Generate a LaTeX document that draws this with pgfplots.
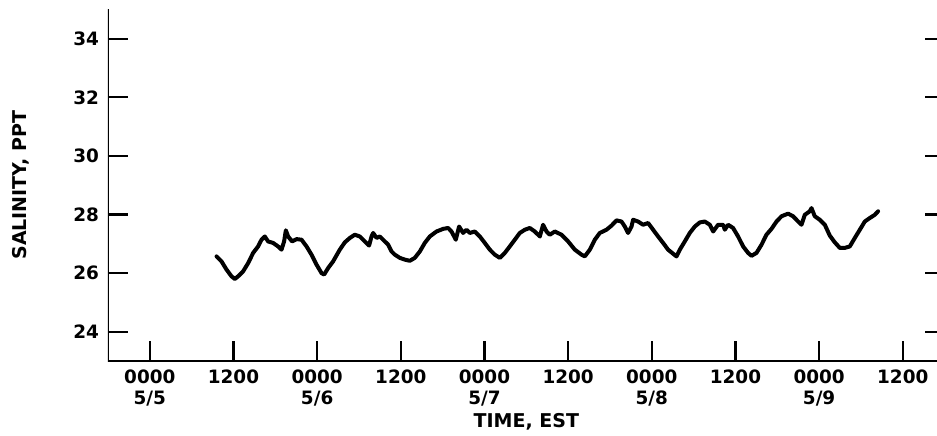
\documentclass[border=0pt]{standalone}
\usepackage{fontspec}
\setmainfont{DejaVu Sans}
\usepackage{pgfplots}
\pgfplotsset{compat=1.18}
\usepackage{pgfplotstable}

% salinity record, hours from 0000 5/5 vs ppt
\pgfplotstableread{
h v
9.57 26.57
10.28 26.40
11.00 26.12
11.72 25.89
12.19 25.80
12.66 25.89
13.38 26.06
14.10 26.34
14.82 26.69
15.53 26.91
16.02 27.14
16.49 27.25
16.97 27.08
17.68 27.03
18.40 26.91
18.89 26.80
19.26 27.08
19.51 27.46
19.84 27.25
20.41 27.08
21.04 27.16
21.76 27.14
22.48 26.91
23.19 26.63
23.91 26.29
24.63 26.00
25.00 25.95
25.57 26.17
26.29 26.40
27.25 26.80
27.97 27.05
28.69 27.20
29.40 27.31
30.12 27.25
30.84 27.08
31.45 26.94
31.80 27.25
32.03 27.37
32.52 27.20
32.99 27.25
33.46 27.14
34.18 26.97
34.67 26.74
35.14 26.63
35.86 26.52
36.57 26.46
37.29 26.42
38.01 26.52
38.73 26.74
39.44 27.03
40.16 27.25
41.12 27.42
42.07 27.51
42.79 27.54
43.27 27.42
43.89 27.14
44.36 27.59
44.94 27.37
45.42 27.48
45.90 27.37
46.61 27.42
47.33 27.25
48.05 27.03
48.77 26.80
49.48 26.63
50.20 26.52
50.92 26.69
51.63 26.91
52.35 27.14
53.07 27.37
53.79 27.48
54.50 27.54
55.22 27.42
55.94 27.25
56.41 27.65
56.90 27.42
57.37 27.31
58.09 27.42
59.05 27.31
60.00 27.08
60.96 26.80
61.92 26.63
62.39 26.57
63.11 26.80
63.83 27.14
64.54 27.37
65.50 27.48
66.22 27.62
66.94 27.80
67.66 27.76
68.13 27.59
68.60 27.37
69.09 27.59
69.32 27.82
70.04 27.76
70.75 27.65
71.47 27.71
72.19 27.48
72.91 27.25
73.62 27.03
74.34 26.80
75.06 26.66
75.54 26.57
76.02 26.80
76.73 27.08
77.45 27.37
78.17 27.59
78.89 27.73
79.60 27.76
80.32 27.65
80.80 27.42
81.51 27.65
82.23 27.65
82.47 27.48
82.95 27.65
83.66 27.54
84.38 27.25
85.10 26.91
85.81 26.69
86.30 26.59
87.02 26.69
87.74 26.97
88.45 27.31
89.17 27.51
89.89 27.76
90.61 27.94
91.55 28.03
92.27 27.94
92.99 27.76
93.47 27.65
93.95 27.99
94.66 28.11
94.91 28.22
95.38 27.94
96.10 27.82
96.82 27.65
97.53 27.28
98.25 27.05
98.97 26.86
99.68 26.86
100.40 26.91
101.12 27.20
101.84 27.48
102.55 27.76
103.27 27.88
103.99 27.99
104.46 28.11
}\salinity

\begin{document}
\begin{tikzpicture}
\begin{axis}[
    name=ax,
    scale only axis,
    width=418.3pt, height=175.8pt,
    xmin=-6, xmax=114, ymin=23, ymax=35,
    xtick={0,12,...,108},
    xticklabels={{0000\\5/5},1200,{0000\\5/6},1200,{0000\\5/7},1200,{0000\\5/8},1200,{0000\\5/9},1200},
    ytick={24,26,...,34},
    xtick pos=bottom, ytick pos=both, yticklabel pos=left,
    tick align=inside, major tick length=10pt,
    every tick/.style={black, line width=1.1pt},
    axis line style={draw=none},
    tick label style={font=\fontsize{9.2}{10.4}\selectfont\bfseries},
    xticklabel style={align=center, yshift=-1pt},
    yticklabel style={xshift=-1pt},
    /pgf/number format/assume math mode=true,
    label style={font=\fontsize{9.5}{11}\selectfont\bfseries},
    xlabel={TIME, EST},
    xlabel style={at={(axis description cs:0.5,0)}, anchor=center, yshift=-30.5pt},
    ylabel={SALINITY, PPT},
    ylabel style={at={(axis description cs:0,0.5)}, anchor=center, yshift=43.5pt},
]
\draw[line width=1.4pt] (rel axis cs:0,1) -- (rel axis cs:0,0) -- (rel axis cs:1,0);
\addplot[black, line width=2pt, line join=round, line cap=round, no marks] table[x=h, y=v] {\salinity};
\end{axis}
\pgfresetboundingbox
\path[use as bounding box] ([shift={(-54pt,-37pt)}]ax.south west) rectangle ([shift={(414.5pt,180.5pt)}]ax.south west);
\end{tikzpicture}
\end{document}
